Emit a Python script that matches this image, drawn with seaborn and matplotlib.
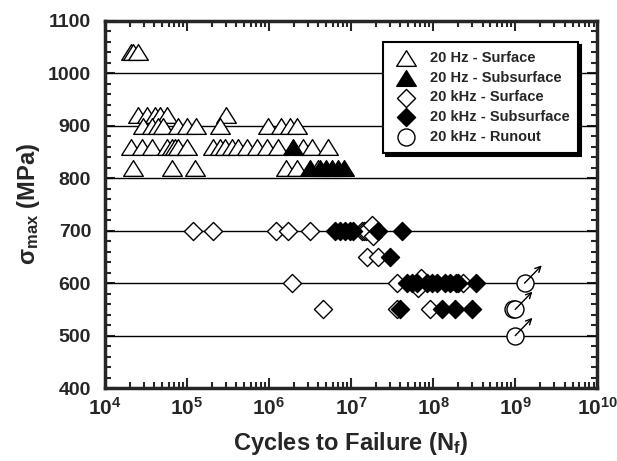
import numpy as np
import pandas as pd
import matplotlib
matplotlib.use("Agg")
import matplotlib.pyplot as plt
from matplotlib.path import Path
from matplotlib.ticker import MultipleLocator, LogLocator, NullFormatter
import seaborn as sns

# ---------------------------------------
# Data (cycles, MPa)
# ---------------------------------------
hz_surf_N = [2.1e4, 2.2e4, 2.5e4,
             2.5e4, 3.3e4, 4.1e4, 4.7e4, 5.7e4, 3.0e5,
             2.9e4, 3.7e4, 4.4e4, 5.1e4, 7.8e4, 1.0e5, 1.3e5, 2.5e5, 9.8e5, 1.4e6, 1.8e6, 2.2e6,
             2.1e4, 2.8e4, 3.7e4, 5.7e4, 6.6e4, 7.1e4, 7.8e4, 1.0e5, 2.1e5, 2.5e5, 2.9e5, 3.5e5,
             4.2e5, 5.4e5, 7.1e5, 9.5e5, 1.3e6, 2.6e6, 3.3e6, 5.2e6,
             2.2e4, 6.5e4, 1.25e5, 1.6e6, 2.2e6, 4.0e6]
hz_surf_S = [1040, 1040, 1040,
             920, 920, 920, 920, 920, 920,
             900, 900, 900, 900, 900, 900, 900, 900, 900, 900, 900, 900,
             860, 860, 860, 860, 860, 860, 860, 860, 860, 860, 860, 860,
             860, 860, 860, 860, 860, 860, 860, 860,
             820, 820, 820, 820, 820, 820]

hz_sub_N = [1.95e6, 3.2e6, 4.2e6, 5.0e6, 5.9e6, 6.9e6, 8.1e6]
hz_sub_S = [860, 820, 820, 820, 820, 820, 820]

khz_surf_N = [1.2e5, 2.1e5, 1.2e6, 1.7e6, 3.2e6, 1.35e7, 1.45e7, 1.5e7, 1.8e7, 1.85e7,
              1.55e7, 2.15e7,
              1.9e6, 3.6e7, 6.6e7, 7.2e7, 2.3e8,
              4.6e6, 3.6e7, 9.1e7]
khz_surf_S = [700, 700, 700, 700, 700, 700, 700, 700, 710, 690,
              650, 650,
              600, 600, 590, 610, 600,
              550, 550, 550]

khz_sub_N = [6.3e6, 7.4e6, 8.5e6, 9.8e6, 1.05e7, 2.1e7, 4.2e7,
             3.0e7,
             4.8e7, 5.5e7, 6.3e7, 8.4e7, 9.6e7, 1.1e8, 1.4e8, 1.6e8, 1.9e8, 2.0e8, 3.3e8,
             4.0e7, 1.28e8, 1.85e8, 2.96e8]
khz_sub_S = [700, 700, 700, 700, 700, 700, 700,
             650,
             600, 600, 600, 600, 600, 600, 600, 600, 600, 600, 600,
             550, 550, 550, 550]

runout_N = [1.3e9, 0.95e9, 1.0e9, 1.0e9]
runout_S = [600, 550, 550, 500]
arrow_N = [1.3e9, 1.0e9, 1.0e9]
arrow_S = [600, 550, 500]

series_labels = ["20 Hz - Surface", "20 Hz - Subsurface", "20 kHz - Surface",
                 "20 kHz - Subsurface", "20 kHz - Runout"]

x_tick_exps = [4, 5, 6, 7, 8, 9, 10]
x_tick_labels = [r"$\mathbf{10^{%d}}$" % k for k in x_tick_exps]
y_ticks = [400, 500, 600, 700, 800, 900, 1000, 1100]

# ---------------------------------------
# Styling
# ---------------------------------------
sns.set_style("ticks")
plt.rcParams["font.family"] = ["Liberation Sans", "DejaVu Sans"]
plt.rcParams["font.weight"] = "bold"
plt.rcParams["mathtext.fontset"] = "custom"
plt.rcParams["mathtext.rm"] = "Liberation Sans:bold"
plt.rcParams["mathtext.bf"] = "Liberation Sans:bold"
plt.rcParams["mathtext.it"] = "Liberation Sans:bold"

frames = []
for lab, N, S in zip(series_labels,
                     [hz_surf_N, hz_sub_N, khz_surf_N, khz_sub_N, runout_N],
                     [hz_surf_S, hz_sub_S, khz_surf_S, khz_sub_S, runout_S]):
    frames.append(pd.DataFrame({"N": N, "S": S, "type": lab}))
df = pd.concat(frames, ignore_index=True)

# slightly flattened triangle, closed so the open ones get all three edges
tri = Path([(0, 0.8), (-1, -0.8), (1, -0.8), (0, 0.8)],
           [Path.MOVETO, Path.LINETO, Path.LINETO, Path.CLOSEPOLY])
styles = {
    "20 Hz - Surface": dict(marker=tri, color="white", s=200),
    "20 Hz - Subsurface": dict(marker=tri, color="black", s=200),
    "20 kHz - Surface": dict(marker="D", color="white", s=85),
    "20 kHz - Subsurface": dict(marker="D", color="black", s=85),
    "20 kHz - Runout": dict(marker="o", color="white", s=150),
}

fig = plt.figure(figsize=(6.17, 4.61), dpi=100)
ax = fig.add_axes([0.170, 0.158, 0.798, 0.797])

for lab in series_labels:
    sub = df[df["type"] == lab]
    st = styles[lab]
    sns.scatterplot(data=sub, x="N", y="S", ax=ax, marker=st["marker"], color=st["color"],
                    s=st["s"], edgecolor="black", linewidth=1.0, label=lab, zorder=3)

# runout arrows
for n, s in zip(arrow_N, arrow_S):
    ax.annotate("", xy=(n * 10 ** 0.21, s + 34), xytext=(n, s),
                arrowprops=dict(arrowstyle="->", color="black", lw=1.0,
                                shrinkA=0, shrinkB=0, mutation_scale=10), zorder=4)

ax.set_xscale("log")
ax.set_xlim(1e4, 1e10)
ax.set_ylim(400, 1100)

ax.set_xticks([10.0 ** k for k in x_tick_exps])
ax.set_xticklabels(x_tick_labels, fontsize=15)
ax.xaxis.set_minor_locator(LogLocator(base=10, subs=np.arange(2, 10), numticks=20))
ax.xaxis.set_minor_formatter(NullFormatter())
ax.set_yticks(y_ticks)
ax.set_yticklabels([str(v) for v in y_ticks], fontsize=14, fontweight="bold")
ax.yaxis.set_minor_locator(MultipleLocator(20))

for yv in y_ticks[1:-1]:
    ax.axhline(yv, color="black", lw=1.0, zorder=1)

ax.tick_params(which="both", direction="in", top=True, right=True, width=1.5)
ax.tick_params(axis="x", pad=6)
ax.tick_params(axis="y", pad=10)
ax.tick_params(which="major", length=7)
ax.tick_params(which="minor", length=4)
for sp in ax.spines.values():
    sp.set_linewidth(2.5)

ax.set_xlabel("Cycles to Failure (N$_\\mathbf{f}$)", fontsize=17, fontweight="bold", labelpad=8)
ax.set_ylabel("σ$_\\mathbf{max}$ (MPa)", fontsize=17, fontweight="bold", labelpad=4)

leg = ax.legend(loc="upper right", bbox_to_anchor=(0.976, 0.962),
                frameon=True, fancybox=False, edgecolor="black", framealpha=1,
                shadow={"color": "black", "alpha": 1}, labelspacing=0.4,
                handletextpad=0.6, borderpad=0.6, prop={"weight": "bold", "size": 10.5})
leg.get_frame().set_linewidth(1.5)
leg.set_zorder(5)

fig.savefig("out.png", dpi=100)
